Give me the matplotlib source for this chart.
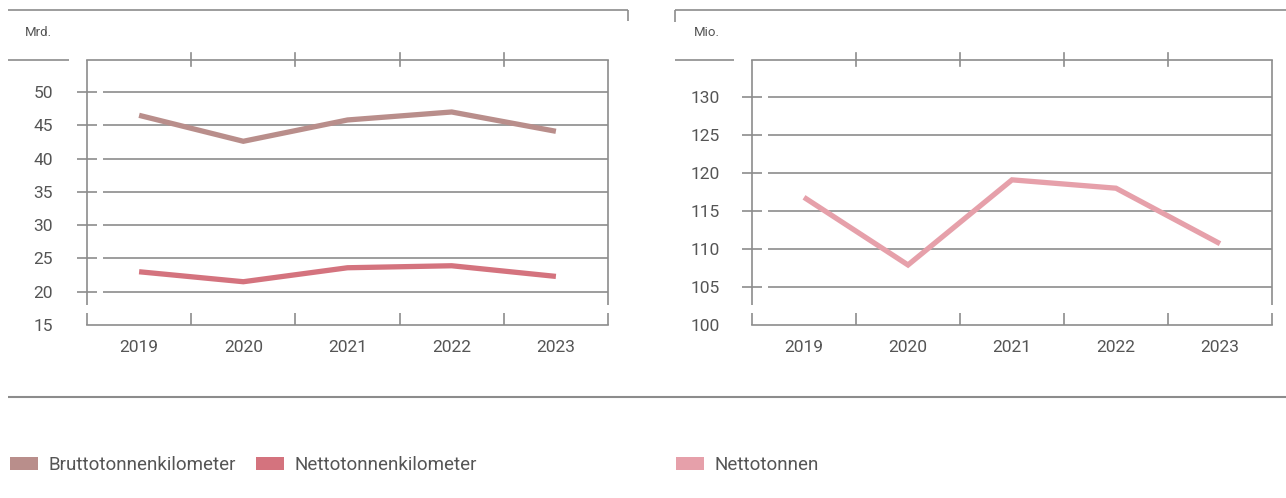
import matplotlib
matplotlib.use("Agg")
import matplotlib.pyplot as plt
from matplotlib.lines import Line2D
from matplotlib.patches import Patch

# ---------------- data ----------------
years = ["2019", "2020", "2021", "2022", "2023"]
brutto_tkm = [46.5, 42.6, 45.8, 47.0, 44.1]      # Mrd.
netto_tkm = [23.0, 21.5, 23.6, 23.9, 22.3]       # Mrd.
netto_t = [116.8, 107.9, 119.1, 118.0, 110.7]    # Mio.

left_yticks = [15, 20, 25, 30, 35, 40, 45, 50]
right_yticks = [100, 105, 110, 115, 120, 125, 130]

labels_left = ["Bruttotonnenkilometer", "Nettotonnenkilometer"]
labels_right = ["Nettotonnen"]
unit_left = "Mrd."
unit_right = "Mio."

# ---------------- style ----------------
C_BRUTTO = "#b98e8b"
C_NETTO = "#d4737e"
C_NT = "#e6a0aa"
AX_C = "#8c8c8c"
TXT_C = "#555555"
FONT = ["Roboto", "DejaVu Sans"]
plt.rcParams["font.family"] = FONT

W, H = 1286, 498
fig = plt.figure(figsize=(W / 100, H / 100), dpi=100)
fig.patch.set_facecolor("white")


def fx(x):
    return x / W


def fy(y):
    return 1 - y / H


def fline(x0, y0, x1, y1, lw=1.2):
    fig.add_artist(Line2D([fx(x0), fx(x1)], [fy(y0), fy(y1)],
                          transform=fig.transFigure, color=AX_C, lw=lw,
                          solid_capstyle="butt"))


def setup_axes(left, right, top, bottom, ylim, yticks, pad_px):
    ax = fig.add_axes([fx(left), fy(bottom), fx(right - left), (bottom - top) / H])
    ax.set_xlim(0, len(years))
    ax.set_ylim(*ylim)
    for s in ax.spines.values():
        s.set_visible(False)
    for side in ("bottom", "top"):
        ax.spines[side].set_visible(True)
        ax.spines[side].set_color(AX_C)
        ax.spines[side].set_linewidth(1.2)
    # vertical sides with small gap near bottom
    gap_frac = 20 / (bottom - top)
    for xf in (0, 1):
        ax.plot([xf, xf], [1, gap_frac], transform=ax.transAxes, color=AX_C,
                lw=1.2, clip_on=False, solid_capstyle="butt")
    # horizontal grid lines (start slightly right of axis)
    gstart = 16 / (right - left)
    trans = ax.get_yaxis_transform()
    for v in yticks[1:]:
        ax.plot([gstart, 1], [v, v], transform=trans, color=AX_C, lw=1.2,
                clip_on=False, solid_capstyle="butt")
    # y ticks
    ax.set_yticks(yticks)
    ax.tick_params(axis="y", direction="inout", length=14.4, width=1.2,
                   color=AX_C, labelcolor=TXT_C, labelsize=12.5,
                   pad=pad_px * 0.72)
    ax.yaxis.get_major_ticks()[0].tick1line.set_visible(False)
    # x tick labels at category centres
    centres = [i + 0.5 for i in range(len(years))]
    ax.set_xticks(centres)
    ax.set_xticklabels(years)
    ax.tick_params(axis="x", which="major", length=0, labelcolor=TXT_C,
                   labelsize=12.5, pad=11)
    # minor ticks at category boundaries (bottom, inward)
    ax.set_xticks(list(range(len(years) + 1)), minor=True)
    ax.tick_params(axis="x", which="minor", direction="in", length=8.6,
                   width=1.2, color=AX_C, bottom=True, top=False)
    # top ticks crossing the top line
    for xb in range(1, len(years)):
        ax.plot([xb, xb], [1 - 6 / (bottom - top), 1 + 7 / (bottom - top)],
                transform=ax.get_xaxis_transform(), color=AX_C, lw=1.2,
                clip_on=False)
    return ax


xc = [i + 0.5 for i in range(len(years))]

# ---------------- left chart ----------------
axL = setup_axes(87, 608, 60, 325, (15, 54.81), left_yticks, 24)
axL.plot(xc, brutto_tkm, color=C_BRUTTO, lw=3.8, solid_joinstyle="miter",
         solid_capstyle="butt", clip_on=False)
axL.plot(xc, netto_tkm, color=C_NETTO, lw=3.8, solid_joinstyle="miter",
         solid_capstyle="butt", clip_on=False)

# ---------------- right chart ----------------
axR = setup_axes(752, 1272, 60, 325, (100, 134.87), right_yticks, 22)
axR.plot(xc, netto_t, color=C_NT, lw=3.8, solid_joinstyle="miter",
         solid_capstyle="butt", clip_on=False)

# ---------------- frame decorations ----------------
fline(8, 10, 628, 10)
fline(628, 10, 628, 21)
fline(675, 10, 1286, 10)
fline(675, 10, 675, 22)
fline(8, 60, 69, 60)
fline(675, 60, 734, 60)
fline(8, 397, 1286, 397, lw=1.5)

fig.text(fx(25), fy(33), unit_left, fontsize=9.5, color=TXT_C, va="center", ha="left")
fig.text(fx(694), fy(33), unit_right, fontsize=9.5, color=TXT_C, va="center", ha="left")

# ---------------- legends ----------------
hL = [Patch(facecolor=C_BRUTTO, edgecolor="none"), Patch(facecolor=C_NETTO, edgecolor="none")]
hR = [Patch(facecolor=C_NT, edgecolor="none")]
common = dict(frameon=False, fontsize=13.5, handlelength=1.5, handleheight=0.75,
              handletextpad=0.53, columnspacing=1.1, borderpad=0, borderaxespad=0,
              loc="center left", labelcolor=TXT_C)
legL = fig.legend(hL, labels_left, ncol=2, bbox_to_anchor=(fx(10), fy(465)), **common)
legR = fig.legend(hR, labels_right, ncol=1, bbox_to_anchor=(fx(676), fy(465)), **common)

fig.savefig("out.png", dpi=100, facecolor="white")
